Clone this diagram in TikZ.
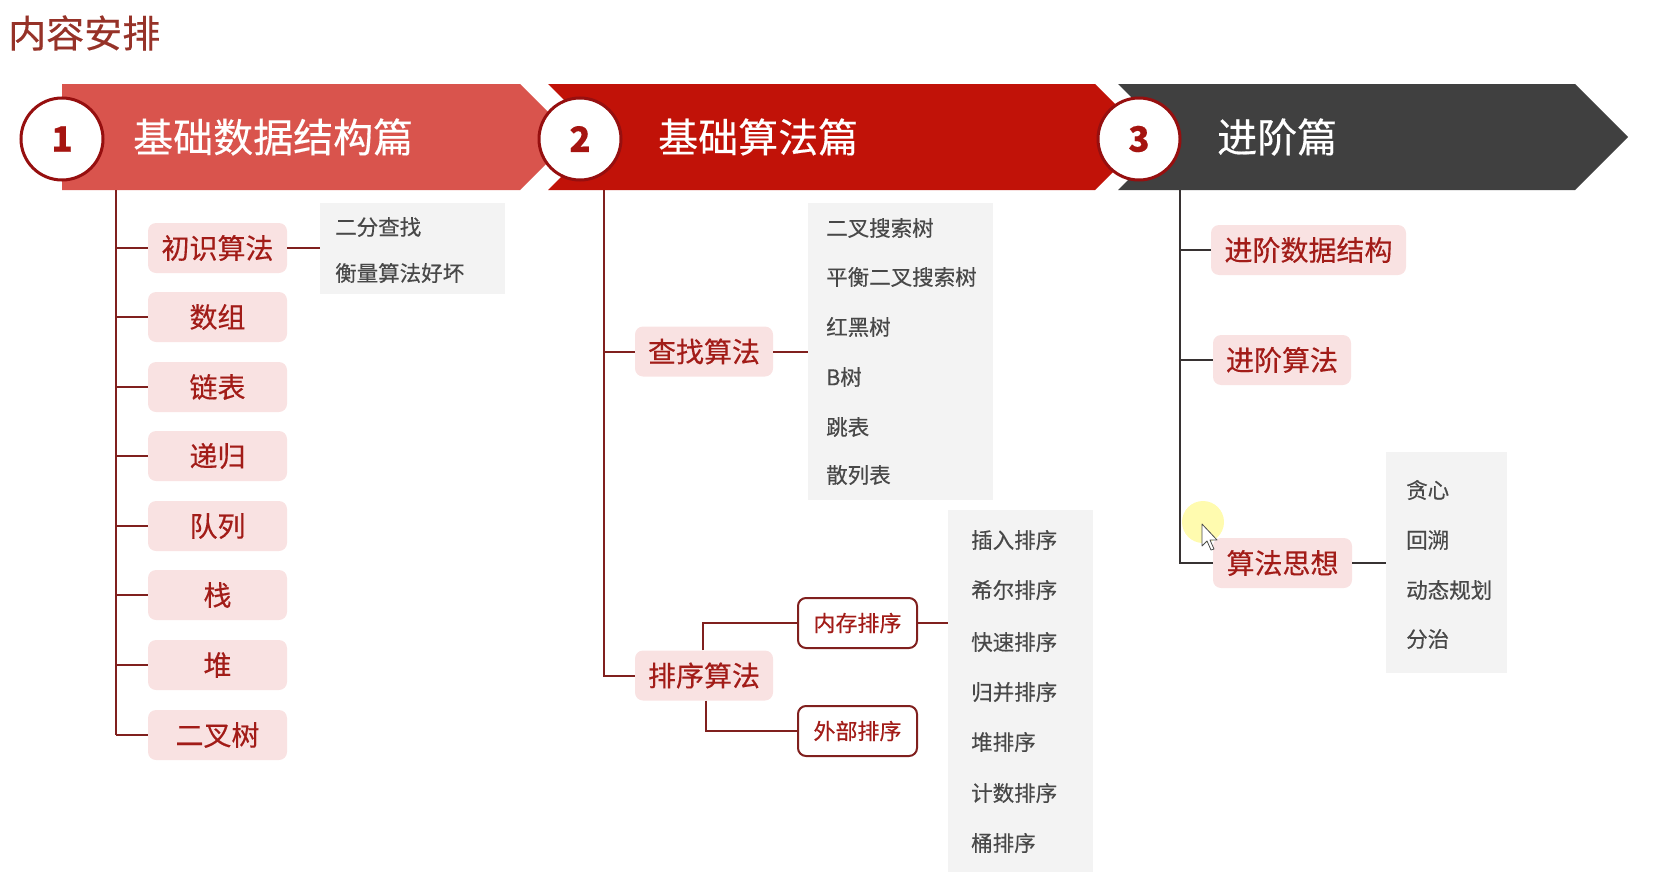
\documentclass[tikz,border=0pt]{standalone}
\usepackage{fontspec}
\setmainfont{Noto Sans CJK SC}[FakeBold=0.35]
\usetikzlibrary{calc}
\definecolor{titlecol}{RGB}{150,50,40}
\definecolor{banA}{RGB}{217,84,77}
\definecolor{banB}{RGB}{193,18,8}
\definecolor{banC}{RGB}{64,64,64}
\definecolor{circcol}{RGB}{150,15,15}
\definecolor{numcol}{RGB}{165,20,16}
\definecolor{pinkfill}{RGB}{249,226,226}
\definecolor{pinktext}{RGB}{162,28,24}
\definecolor{grayfill}{RGB}{243,243,243}
\definecolor{graytext}{RGB}{72,72,72}
\definecolor{linered}{RGB}{128,32,30}
\definecolor{linedark}{RGB}{55,50,50}
\tikzset{
  numcirc/.style={circle, draw=circcol, line width=3pt, fill=white, minimum size=82pt, inner sep=0pt,
    text=numcol, font=\fontsize{35}{40}\selectfont\bfseries},
  bantext/.style={anchor=west, text=white, inner sep=0pt, font=\fontsize{40}{44}\selectfont},
  pinkbox/.style={rounded corners=8pt, fill=pinkfill, text=pinktext, inner sep=0pt,
    minimum height=50pt, font=\fontsize{28}{32}\selectfont},
  outbox/.style={rounded corners=8pt, fill=white, draw=linered, line width=2pt, text=pinktext, inner sep=0pt,
    minimum height=50pt, minimum width=119pt, font=\fontsize{22}{26}\selectfont},
  graybox/.style={fill=grayfill, anchor=north west, inner sep=0pt},
  item/.style={anchor=west, text=graytext, inner sep=0pt, font=\fontsize{21.5}{25}\selectfont},
  redline/.style={draw=linered, line width=2pt},
  darkline/.style={draw=linedark, line width=2pt},
}
\begin{document}
\begin{tikzpicture}[x=1pt,y=-1pt]
\useasboundingbox (0,0) rectangle (1654,878);
% title
\node[anchor=west, inner sep=0pt, text=titlecol, font=\fontsize{38}{42}\selectfont] (title) at (8,33) {内容安排};
% banners
\fill[banA] (62,84) -- (520,84) -- (573,137) -- (520,190) -- (62,190) -- cycle;
\fill[banB] (548,84) -- (1095,84) -- (1148,137) -- (1095,190) -- (548,190) -- (601,137) -- cycle;
\fill[banC] (1118,84) -- (1575,84) -- (1628,137) -- (1575,190) -- (1118,190) -- (1171,137) -- cycle;
\node[numcirc] (c1) at (62,139) {1};
\node[numcirc] (c2) at (580,139) {2};
\node[numcirc] (c3) at (1139,139) {3};
\node[bantext] (b1) at (133,137) {基础数据结构篇};
\node[bantext] (b2) at (658,137) {基础算法篇};
\node[bantext] (b3) at (1217,137) {进阶篇};
\coordinate (t1) at (116,190);
\coordinate (t2) at (604,190);
\coordinate (t3) at (1180,190);

% ---- column 1
\node[pinkbox, minimum width=139pt] (l1) at (217.5,248) {初识算法};
\node[pinkbox, minimum width=139pt] (l2) at (217.5,317) {数组};
\node[pinkbox, minimum width=139pt] (l3) at (217.5,387) {链表};
\node[pinkbox, minimum width=139pt] (l4) at (217.5,456) {递归};
\node[pinkbox, minimum width=139pt] (l5) at (217.5,526) {队列};
\node[pinkbox, minimum width=139pt] (l6) at (217.5,595) {栈};
\node[pinkbox, minimum width=139pt] (l7) at (217.5,665) {堆};
\node[pinkbox, minimum width=139pt] (l8) at (217.5,735) {二叉树};
\draw[redline] (t1) -- (t1 |- l8.west);
\foreach \n in {l1,l2,l3,l4,l5,l6,l7,l8} {\draw[redline] (t1 |- \n.west) -- (\n.west);}
\node[graybox, minimum width=185pt, minimum height=91pt] (g1) at (320,203) {};
\node[item] (g1a) at (335,227) {二分查找};
\node[item] (g1b) at (335,273) {衡量算法好坏};
\draw[redline] (l1.east) -- (l1.east -| g1.west);

% ---- column 2
\node[pinkbox, minimum width=138pt] (m1) at (704,351.5) {查找算法};
\node[pinkbox, minimum width=138pt] (m2) at (704,675.5) {排序算法};
\draw[redline] (t2) -- (t2 |- m2.west) -- (m2.west);
\draw[redline] (t2 |- m1.west) -- (m1.west);
\node[graybox, minimum width=185pt, minimum height=297pt] (g2) at (808,203) {};
\node[item] (g2a) at (826,228) {二叉搜索树};
\node[item] (g2b) at (826,277) {平衡二叉搜索树};
\node[item] (g2c) at (826,327) {红黑树};
\node[item] (g2d) at (826,377) {B树};
\node[item] (g2e) at (826,427) {跳表};
\node[item] (g2f) at (826,475) {散列表};
\draw[redline] (m1.east) -- (m1.east -| g2.west);
\node[outbox] (s1) at (857.5,623) {内存排序};
\node[outbox] (s2) at (857.5,731) {外部排序};
\draw[redline] ($(m2.north)+(-1,0)$) |- (s1.west);
\draw[redline] ($(m2.south)+(2,0)$) |- (s2.west);
\node[graybox, minimum width=145pt, minimum height=362pt] (g3) at (948,510) {};
\node[item] (g3a) at (971,540) {插入排序};
\node[item] (g3b) at (971,590) {希尔排序};
\node[item] (g3c) at (971,642) {快速排序};
\node[item] (g3d) at (971,692) {归并排序};
\node[item] (g3e) at (971,742) {堆排序};
\node[item] (g3f) at (971,793) {计数排序};
\node[item] (g3g) at (971,843) {桶排序};
\draw[redline] (s1.east) -- (s1.east -| g3.west);

% ---- column 3
\node[pinkbox, minimum width=195pt] (r1) at (1308.5,250) {进阶数据结构};
\node[pinkbox, minimum width=138pt] (r2) at (1282,360) {进阶算法};
\node[pinkbox, minimum width=139pt] (r3) at (1282.5,563) {算法思想};
\draw[darkline] (t3) -- (t3 |- r3.west) -- (r3.west);
\draw[darkline] (t3 |- r1.west) -- (r1.west);
\draw[darkline] (t3 |- r2.west) -- (r2.west);
\node[graybox, minimum width=121pt, minimum height=221pt] (g4) at (1386,452) {};
\node[item] (g4a) at (1406,490) {贪心};
\node[item] (g4b) at (1406,540) {回溯};
\node[item] (g4c) at (1406,590) {动态规划};
\node[item] (g4d) at (1406,639) {分治};
\draw[darkline] (r3.east) -- (r3.east -| g4.west);

% cursor highlight
\fill[yellow!70!white, opacity=0.45] (1203,522) circle (21);
\draw[fill=white, draw=black!70, line width=0.8pt, line join=round]
  (1202,524) -- (1202,546) -- (1207,541) -- (1211,550) -- (1214,549) -- (1210,540) -- (1217,540) -- cycle;
\end{tikzpicture}
\end{document}
